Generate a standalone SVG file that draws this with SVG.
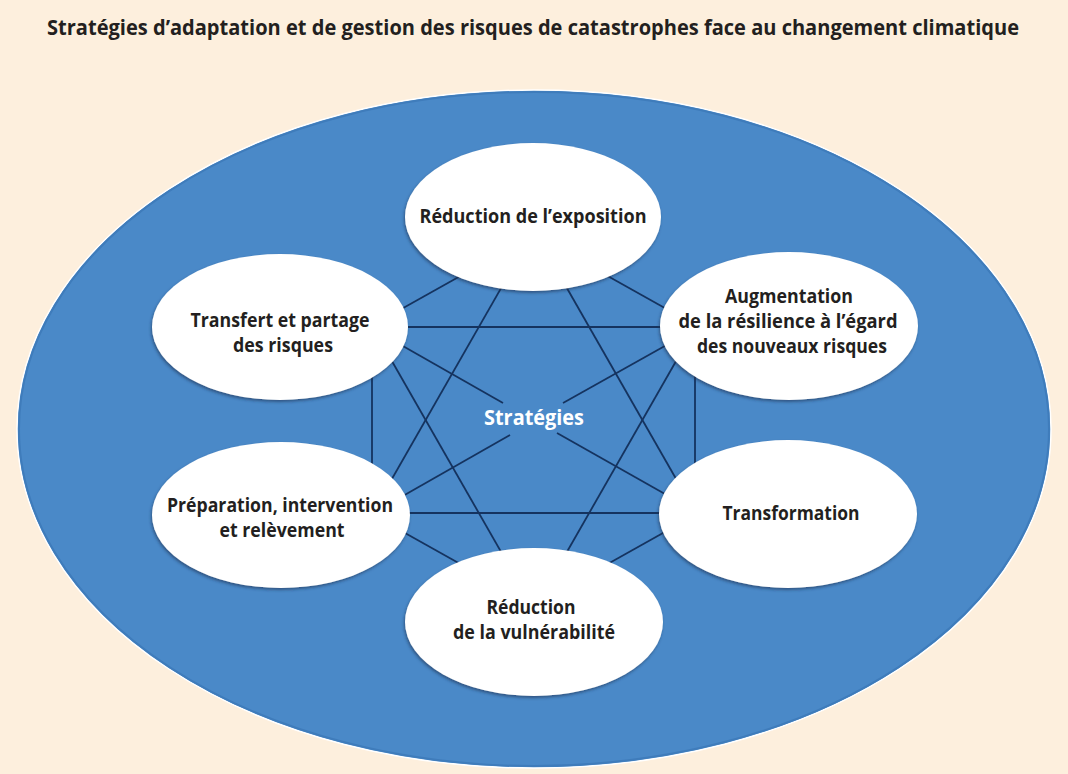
<svg xmlns="http://www.w3.org/2000/svg" width="1068" height="774" viewBox="0 0 1068 774">
<defs>
<filter id="sh" x="-10%" y="-10%" width="120%" height="125%">
<feDropShadow dx="-1" dy="2" stdDeviation="1.6" flood-color="#1d3557" flood-opacity="0.6"/>
</filter>
<style>
.bg{fill:#fdefdd}
.outer{fill:#4a89c8;stroke:#ffffff;stroke-width:1.5}
.rim{fill:none;stroke:#3f7cbb;stroke-width:2}
.node{fill:#ffffff;filter:url(#sh)}
.lbl{font-family:"Open Sans","Liberation Sans",sans-serif;font-weight:bold;font-size:20px;fill:#231f20;text-anchor:middle}
.title{font-family:"Open Sans","Liberation Sans",sans-serif;font-weight:bold;font-size:21px;fill:#231f20;text-anchor:middle}
.center{font-family:"Open Sans","Liberation Sans",sans-serif;font-weight:bold;font-size:22px;fill:#ffffff;text-anchor:middle}
.conn line{stroke:#15335f;stroke-width:1.8;fill:none}
</style>
</defs>
<rect class="bg" x="0" y="0" width="1068" height="774"/>
<text class="title" x="533" y="35" textLength="972" lengthAdjust="spacingAndGlyphs">Stratégies d’adaptation et de gestion des risques de catastrophes face au changement climatique</text>
<ellipse class="outer" cx="534" cy="429" rx="517" ry="339"/>
<ellipse class="rim" cx="534" cy="429" rx="515" ry="337"/>
<g id="connectors" class="conn">
<line x1="380" y1="321" x2="480" y2="265"/>
<line x1="588" y1="265" x2="688" y2="321"/>
<line x1="390" y1="327" x2="676" y2="327"/>
<line x1="390" y1="513" x2="676" y2="513"/>
<line x1="372" y1="360" x2="372" y2="480"/>
<line x1="695" y1="360" x2="695" y2="480"/>
<line x1="380" y1="519" x2="480" y2="575"/>
<line x1="588" y1="575" x2="688" y2="519"/>
<line x1="512" y1="269" x2="381" y2="498"/>
<line x1="556" y1="269" x2="687" y2="498"/>
<line x1="381" y1="342" x2="512" y2="571"/>
<line x1="687" y1="342" x2="556" y2="571"/>
<line x1="380" y1="333" x2="503" y2="403"/>
<line x1="688" y1="333" x2="563" y2="403"/>
<line x1="510" y1="435" x2="380" y2="509"/>
<line x1="557" y1="433" x2="688" y2="507"/>
</g>
<text class="center" x="534" y="425" textLength="100" lengthAdjust="spacingAndGlyphs">Stratégies</text>
<g id="n-exposition">
<ellipse class="node" cx="533" cy="217" rx="128" ry="74"/>
<text class="lbl" x="533" y="223" textLength="227" lengthAdjust="spacingAndGlyphs">Réduction de l’exposition</text>
</g>
<g id="n-resilience">
<ellipse class="node" cx="789" cy="326" rx="129" ry="74"/>
<text class="lbl" x="789" y="303" textLength="128" lengthAdjust="spacingAndGlyphs">Augmentation</text>
<text class="lbl" x="788" y="328" textLength="219" lengthAdjust="spacingAndGlyphs">de la résilience à l’égard</text>
<text class="lbl" x="792" y="353" textLength="190" lengthAdjust="spacingAndGlyphs">des nouveaux risques</text>
</g>
<g id="n-transfert">
<ellipse class="node" cx="280" cy="327" rx="128" ry="73"/>
<text class="lbl" x="280" y="327" textLength="179" lengthAdjust="spacingAndGlyphs">Transfert et partage</text>
<text class="lbl" x="283" y="352" textLength="100" lengthAdjust="spacingAndGlyphs">des risques</text>
</g>
<g id="n-preparation">
<ellipse class="node" cx="281" cy="515" rx="129" ry="73"/>
<text class="lbl" x="280" y="512" textLength="226" lengthAdjust="spacingAndGlyphs">Préparation, intervention</text>
<text class="lbl" x="282" y="537" textLength="125" lengthAdjust="spacingAndGlyphs">et relèvement</text>
</g>
<g id="n-transformation">
<ellipse class="node" cx="788" cy="514" rx="129" ry="74"/>
<text class="lbl" x="791" y="520" textLength="137" lengthAdjust="spacingAndGlyphs">Transformation</text>
</g>
<g id="n-vulnerabilite">
<ellipse class="node" cx="534" cy="622" rx="129" ry="74"/>
<text class="lbl" x="531" y="614" textLength="89" lengthAdjust="spacingAndGlyphs">Réduction</text>
<text class="lbl" x="534" y="639" textLength="162" lengthAdjust="spacingAndGlyphs">de la vulnérabilité</text>
</g>
</svg>
